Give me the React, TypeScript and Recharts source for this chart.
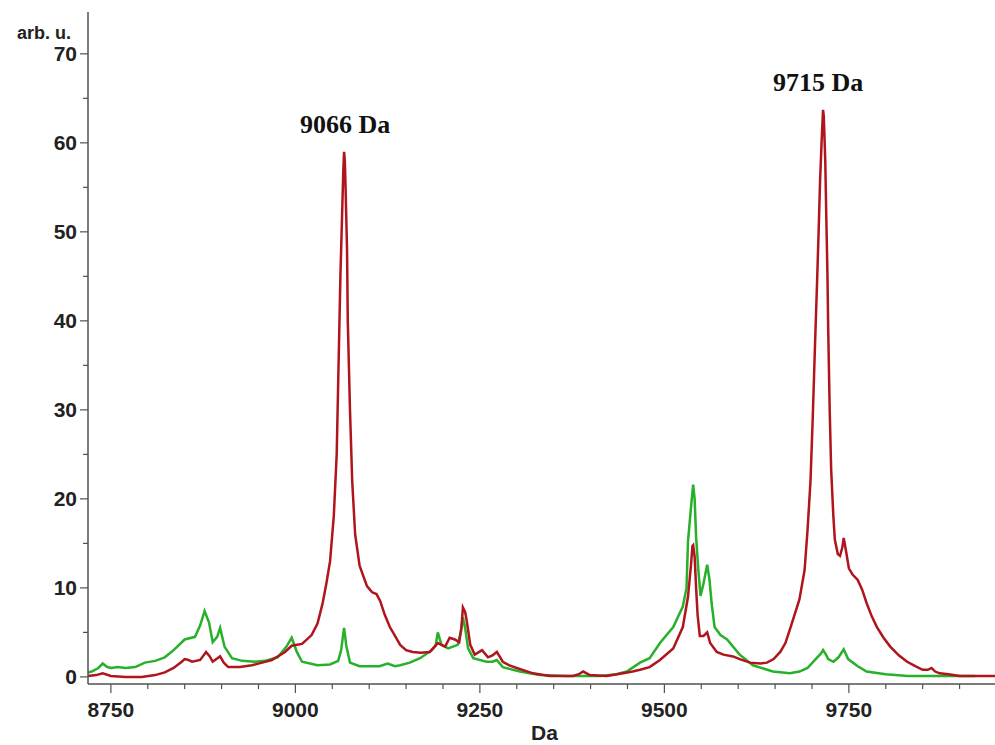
import React from "react";
import { Line, LineChart, XAxis, YAxis } from "recharts";

// red trace (mass in Da, intensity in arb. u.)
const redMass = [
  8719, 8730, 8739, 8750, 8770, 8792, 8810, 8823, 8835, 8846, 8850, 8855, 8860, 8871, 8879, 8884, 8888,
  8893, 8898, 8903, 8909, 8925, 8941, 8955, 8968, 8986, 8995, 9009, 9022, 9030, 9037, 9042, 9047, 9052,
  9056, 9058, 9061, 9063, 9065, 9066, 9067, 9068, 9070, 9071, 9074, 9077, 9081, 9087, 9097, 9104, 9110,
  9115, 9121, 9128, 9135, 9142, 9150, 9159, 9170, 9182, 9193, 9198, 9203, 9209, 9216, 9222, 9225, 9227,
  9230, 9232, 9237, 9243, 9253, 9261, 9267, 9273, 9281, 9290, 9300, 9322, 9345, 9376, 9384, 9390, 9399,
  9422, 9444, 9457, 9467, 9480, 9494, 9512, 9525, 9532, 9536, 9538, 9539, 9541, 9543, 9545, 9548, 9553,
  9558, 9562, 9571, 9580, 9593, 9602, 9616, 9630, 9639, 9648, 9657, 9664, 9670, 9683, 9690, 9694, 9698,
  9701, 9704, 9707, 9709, 9711, 9713, 9715, 9716, 9718, 9719, 9721, 9722, 9724, 9726, 9729, 9731, 9735,
  9738, 9741, 9743, 9746, 9750, 9755, 9762, 9768, 9774, 9781, 9788, 9797, 9806, 9818, 9829, 9840, 9850,
  9857, 9862, 9867, 9873, 9885, 9900, 9920, 9948,
];
const redIntensity = [
  0.1, 0.2, 0.4, 0.1, 0, 0, 0.2, 0.5, 1, 1.7, 2, 1.9, 1.7, 1.9, 2.8, 2.3, 1.7,
  2, 2.3, 1.6, 1.1, 1.1, 1.3, 1.6, 1.9, 2.8, 3.5, 3.7, 4.7, 6, 8.3, 10.5, 13, 18,
  25, 33, 45, 51, 57, 59, 58, 55, 48, 40, 30, 22, 16, 12.5, 10.2, 9.5, 9.3,
  8.5, 7, 5.6, 4.6, 3.6, 3, 2.8, 2.7, 2.8, 3.8, 3.6, 3.4, 4.4, 4.2, 3.9, 5.5, 7.8,
  7.3, 6.4, 3.6, 2.5, 3, 2.2, 2.4, 2.8, 1.7, 1.3, 1, 0.4, 0.1, 0.1, 0.3, 0.6, 0.2,
  0.1, 0.4, 0.6, 0.8, 1.1, 1.9, 3.2, 5.6, 9, 12.5, 14.7, 14.8, 13.5, 10, 7, 4.6, 4.6,
  5, 3.8, 2.8, 2.5, 2.3, 2, 1.6, 1.5, 1.6, 2, 2.8, 3.8, 5.3, 8.7, 12, 16.5, 22,
  29, 37, 44.6, 50, 55.8, 60, 63.7, 63, 58, 53.5, 45, 39, 30, 23.3, 18, 15.4, 13.8,
  13.6, 14.5, 15.6, 14.2, 12.2, 11.5, 10.9, 9.8, 8.3, 6.8, 5.6, 4.4, 3.4, 2.4, 1.7, 1.2, 0.8,
  0.8, 1, 0.6, 0.4, 0.3, 0.1, 0.1, 0.1,
];

// green trace
const greenMass = [
  8719, 8724, 8733, 8739, 8745, 8751, 8759, 8770, 8783, 8796, 8810, 8823, 8835, 8850, 8864, 8871, 8877,
  8883, 8888, 8894, 8898, 8904, 8914, 8928, 8945, 8959, 8976, 8988, 8995, 9002, 9009, 9030, 9047, 9058,
  9062, 9066, 9069, 9074, 9087, 9114, 9125, 9135, 9142, 9155, 9169, 9185, 9190, 9193, 9198, 9207, 9220,
  9224, 9227, 9230, 9234, 9241, 9259, 9267, 9273, 9281, 9304, 9331, 9368, 9413, 9435, 9449, 9467, 9480,
  9494, 9512, 9525, 9530, 9532, 9536, 9539, 9541, 9543, 9546, 9549, 9553, 9558, 9561, 9564, 9568, 9576,
  9585, 9602, 9620, 9647, 9670, 9683, 9694, 9705, 9712, 9715, 9719, 9722, 9729, 9736, 9743, 9749, 9762,
  9774, 9800, 9830, 9921,
];
const greenIntensity = [
  0.5, 0.6, 1, 1.5, 1.1, 1, 1.1, 1, 1.1, 1.6, 1.8, 2.2, 3, 4.2, 4.5, 5.8, 7.4,
  6.1, 3.9, 4.5, 5.5, 3.4, 2.1, 1.8, 1.7, 1.8, 2.2, 3.4, 4.4, 2.8, 1.7, 1.3, 1.4, 1.8,
  3, 5.5, 3.5, 1.6, 1.2, 1.2, 1.5, 1.2, 1.3, 1.6, 2.1, 3, 3.5, 5, 3.6, 3.2, 3.6,
  5, 6.7, 5.5, 3.2, 2.1, 1.7, 1.7, 1.9, 1.1, 0.6, 0.2, 0.1, 0.1, 0.3, 0.6, 1.6, 2.1,
  3.8, 5.6, 7.9, 10, 15.2, 19, 21.6, 20, 15.7, 12, 9.1, 10.5, 12.6, 11, 8.3, 5.6, 4.7,
  4.2, 2.5, 1.3, 0.6, 0.4, 0.6, 1, 2, 2.6, 3, 2.5, 2, 1.7, 2.2, 3.1, 2, 1.2,
  0.6, 0.3, 0.1, 0.1,
];

const xTicks = [
  8750, 8800, 8850, 8900, 8950, 9000, 9050, 9100, 9150, 9200, 9250, 9300, 9350, 9400, 9450, 9500,
  9550, 9600, 9650, 9700, 9750, 9800, 9850, 9900,
];
const yTicks = [0, 5, 10, 15, 20, 25, 30, 35, 40, 45, 50, 55, 60, 65, 70];

const redData = redMass.map((m, i) => ({ mass: m, value: redIntensity[i] }));
const greenData = greenMass.map((m, i) => ({ mass: m, value: greenIntensity[i] }));

const AXIS = "#505050";
const LABEL_FONT = "'Liberation Sans', Arial, sans-serif";

const XTick = (props: any) => {
  const { x, y, payload } = props;
  const major = payload.value % 250 === 0;
  return (
    <g>
      <line x1={x} x2={x} y1={y} y2={y + (major ? 9 : 5)} stroke={AXIS} strokeWidth={1.2} />
      {major && (
        <text
          x={x}
          y={y + 33}
          textAnchor="middle"
          fill="#222"
          fontFamily={LABEL_FONT}
          fontWeight="bold"
          fontSize={21}
        >
          {payload.value}
        </text>
      )}
    </g>
  );
};

const YTick = (props: any) => {
  const { x, y, payload } = props;
  const major = payload.value % 10 === 0;
  return (
    <g>
      <line x1={x - (major ? 8 : 5)} x2={x} y1={y} y2={y} stroke={AXIS} strokeWidth={1.2} />
      {major && (
        <text
          x={x - 11}
          y={y + 7}
          textAnchor="end"
          fill="#222"
          fontFamily={LABEL_FONT}
          fontWeight="bold"
          fontSize={21}
        >
          {payload.value}
        </text>
      )}
    </g>
  );
};

const peakLabel: React.CSSProperties = {
  position: "absolute",
  fontFamily: "'Liberation Serif', 'Times New Roman', serif",
  fontWeight: "bold",
  fontSize: 26,
  color: "#111",
  whiteSpace: "nowrap",
  lineHeight: 1,
};

const App: React.FC = () => {
  return (
    <div style={{ position: "relative", width: 995, height: 745, background: "#fff" }}>
      <style>{`body { margin: 0; }`}</style>
      <LineChart width={995} height={745} margin={{ top: 12, right: 0, bottom: 0, left: 28 }}>
        <XAxis
          type="number"
          dataKey="mass"
          domain={[8719, 9948]}
          allowDataOverflow
          ticks={xTicks}
          interval={0}
          tickLine={false}
          tickSize={0}
          tickMargin={0}
          height={61}
          stroke={AXIS}
          strokeWidth={1.5}
          tick={<XTick />}
        />
        <YAxis
          type="number"
          domain={[-0.8, 74.7]}
          allowDataOverflow
          ticks={yTicks}
          interval={0}
          tickLine={false}
          tickSize={0}
          tickMargin={0}
          width={60}
          stroke={AXIS}
          strokeWidth={1.5}
          tick={<YTick />}
        />
        <Line
          data={greenData}
          dataKey="value"
          type="linear"
          stroke="#27b02a"
          strokeWidth={2.5}
          dot={false}
          isAnimationActive={false}
        />
        <Line
          data={redData}
          dataKey="value"
          type="linear"
          stroke="#b0141c"
          strokeWidth={2.5}
          dot={false}
          isAnimationActive={false}
        />
      </LineChart>
      <div
        style={{
          position: "absolute",
          left: 17,
          top: 24,
          fontFamily: LABEL_FONT,
          fontWeight: "bold",
          fontSize: 18,
          color: "#222",
          lineHeight: 1,
        }}
      >
        arb. u.
      </div>
      <div
        style={{
          position: "absolute",
          left: 531,
          top: 722,
          fontFamily: LABEL_FONT,
          fontWeight: "bold",
          fontSize: 21,
          color: "#222",
          lineHeight: 1,
        }}
      >
        Da
      </div>
      <div style={{ ...peakLabel, left: 300, top: 112 }}>9066 Da</div>
      <div style={{ ...peakLabel, left: 773, top: 70 }}>9715 Da</div>
    </div>
  );
};

export default App;
